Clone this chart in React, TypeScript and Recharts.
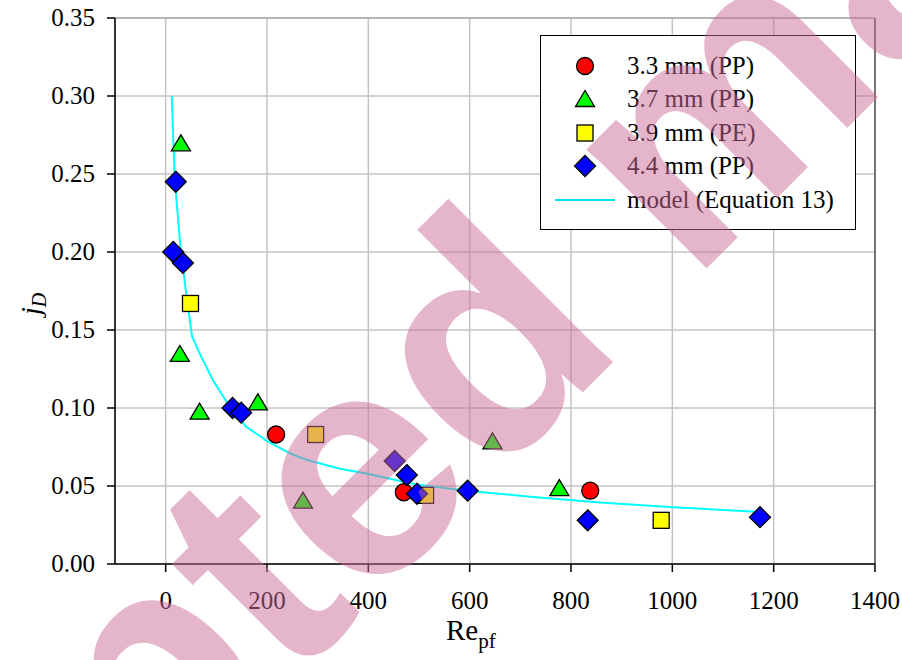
import React from "react"
import {
  ScatterChart,
  Scatter,
  XAxis,
  YAxis,
  CartesianGrid,
  ReferenceLine,
} from "recharts"

// 3.3 mm (PP)
const re33 = [218, 470, 838]
const jd33 = [0.083, 0.046, 0.047]
// 3.7 mm (PP)
const re37 = [30, 28, 67, 182, 271, 645, 777]
const jd37 = [0.269, 0.134, 0.097, 0.103, 0.04, 0.078, 0.048]
// 3.9 mm (PE)
const re39 = [49, 296, 513, 978]
const jd39 = [0.167, 0.083, 0.044, 0.028]
// 4.4 mm (PP)
const re44 = [20, 15, 34, 132, 149, 452, 476, 496, 596, 833, 1173]
const jd44 = [0.245, 0.2, 0.193, 0.1, 0.097, 0.066, 0.057, 0.045, 0.047, 0.028, 0.03]
// model (Equation 13)
const reModel = [12, 18, 29, 41, 52, 67, 93, 126, 159, 199, 245, 276, 344, 396, 495, 594, 725, 857, 995, 1173]
const jdModel = [0.3, 0.246, 0.204, 0.172, 0.146, 0.135, 0.118, 0.101, 0.088, 0.079, 0.071, 0.067, 0.061, 0.058, 0.051, 0.047, 0.043, 0.0395, 0.0365, 0.0333]

const xTicks = [0, 200, 400, 600, 800, 1000, 1200, 1400]
const yTicks = [0, 0.05, 0.1, 0.15, 0.2, 0.25, 0.3, 0.35]

const zip = (xs: number[], ys: number[]) => xs.map((x, i) => ({ x, y: ys[i] }))

const FONT = "'Liberation Serif', 'Times New Roman', serif"

const Circle = (p: any) => <circle cx={p.cx} cy={p.cy} r={8.5} fill="#ff0000" stroke="#000" strokeWidth={1.3} />
const Triangle = (p: any) => (
  <polygon
    points={`${p.cx},${p.cy - 9.5} ${p.cx - 9.5},${p.cy + 6.5} ${p.cx + 9.5},${p.cy + 6.5}`}
    fill="#00ff00"
    stroke="#000"
    strokeWidth={1.3}
  />
)
const Square = (p: any) => (
  <rect x={p.cx - 8} y={p.cy - 8} width={16} height={16} fill="#ffff00" stroke="#000" strokeWidth={1.3} />
)
const Diamond = (p: any) => (
  <polygon
    points={`${p.cx},${p.cy - 10.5} ${p.cx + 10.5},${p.cy} ${p.cx},${p.cy + 10.5} ${p.cx - 10.5},${p.cy}`}
    fill="#0000ff"
    stroke="#000"
    strokeWidth={1.3}
  />
)
const NoDot = () => <g />

const XTick = (p: any) => (
  <text x={p.x} y={p.y + 35} textAnchor="middle" fontFamily={FONT} fontSize={25} fill="#000">
    {p.payload.value}
  </text>
)
const YTick = (p: any) => (
  <text x={p.x - 10} y={p.y + 8} textAnchor="end" fontFamily={FONT} fontSize={25} fill="#000">
    {Number(p.payload.value).toFixed(2)}
  </text>
)

const legendRows = [
  { label: "3.3 mm (PP)", icon: <Circle cx={44} cy={13} /> },
  { label: "3.7 mm (PP)", icon: <Triangle cx={44} cy={14} /> },
  { label: "3.9 mm (PE)", icon: <Square cx={44} cy={13} /> },
  { label: "4.4 mm (PP)", icon: <Diamond cx={44} cy={13} /> },
  { label: "model (Equation 13)", icon: <line x1={14} x2={74} y1={13} y2={13} stroke="#00e5ee" strokeWidth={2} /> },
]

const LegendBox = () => (
  <div
    style={{
      position: "absolute",
      left: 540,
      top: 35,
      width: 316,
      height: 195,
      border: "1.5px solid #000",
      background: "#fff",
      boxSizing: "border-box",
      paddingTop: 13,
      fontFamily: FONT,
      fontSize: 25,
      lineHeight: "26px",
      color: "#000",
    }}
  >
    {legendRows.map((r, i) => (
      <div key={i} style={{ display: "flex", alignItems: "center", height: 33.5 }}>
        <svg width={86} height={26} style={{ flex: "none" }}>
          {r.icon}
        </svg>
        <span>{r.label}</span>
      </div>
    ))}
  </div>
)

export default function App() {
  return (
    <div
      style={{
        position: "absolute",
        left: 0,
        top: 0,
        width: 902,
        height: 660,
        background: "#fff",
        overflow: "hidden",
        fontFamily: FONT,
      }}
    >
      <ScatterChart width={902} height={660} margin={{ top: 18, right: 27, bottom: 36, left: 0 }}>
        <CartesianGrid stroke="#c4c4c4" strokeWidth={1.5} />
        <XAxis
          type="number"
          dataKey="x"
          domain={[-100, 1400]}
          ticks={xTicks}
          allowDataOverflow
          height={60}
          tickSize={8}
          stroke="#000"
          strokeWidth={1.5}
          tick={XTick}
          label={{
            content: () => (
              <text x={446} y={640} fontFamily={FONT} fontSize={29} fill="#000">
                Re
                <tspan fontSize={21} dy={8}>
                  pf
                </tspan>
              </text>
            ),
          }}
        />
        <YAxis
          type="number"
          dataKey="y"
          domain={[0, 0.35]}
          ticks={yTicks}
          width={115}
          tickSize={8}
          stroke="#000"
          strokeWidth={1.5}
          tick={YTick}
          label={{
            content: () => (
              <text x={40} y={315} transform="rotate(-90 40 315)" fontFamily={FONT} fontSize={28} fontStyle="italic" fill="#000">
                j
                <tspan fontSize={20} dy={6}>
                  D
                </tspan>
              </text>
            ),
          }}
        />
        <ReferenceLine x={1400} stroke="#555" strokeWidth={1.5} />
        <ReferenceLine y={0.35} stroke="#aaa" strokeWidth={1.5} />
        <Scatter
          name="model (Equation 13)"
          data={zip(reModel, jdModel)}
          line={{ stroke: "#00ffff", strokeWidth: 2 }}
          shape={NoDot}
          isAnimationActive={false}
        />
        <Scatter name="3.3 mm (PP)" data={zip(re33, jd33)} shape={Circle} isAnimationActive={false} />
        <Scatter name="3.7 mm (PP)" data={zip(re37, jd37)} shape={Triangle} isAnimationActive={false} />
        <Scatter name="3.9 mm (PE)" data={zip(re39, jd39)} shape={Square} isAnimationActive={false} />
        <Scatter name="4.4 mm (PP)" data={zip(re44, jd44)} shape={Diamond} isAnimationActive={false} />
      </ScatterChart>
      <LegendBox />
      <svg width={902} height={660} style={{ position: "absolute", left: 0, top: 0, pointerEvents: "none" }}>
        <text
          x={760}
          y={215}
          transform="rotate(-45 760 215)"
          textAnchor="middle"
          fontFamily="'Liberation Sans', Arial, sans-serif"
          fontWeight="bold"
          fontSize={320}
          fill="rgb(203,107,152)"
          fillOpacity={0.5}
        >
          Accepted manuscript
        </text>
      </svg>
    </div>
  )
}
